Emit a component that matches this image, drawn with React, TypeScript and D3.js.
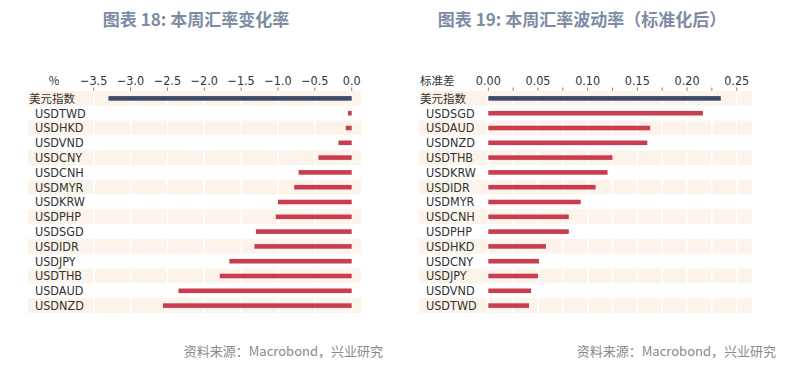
import React from "react";
import * as d3 from "d3";

// 图表18：本周汇率变化率 (%)
const changeCats = [
  "美元指数", "USDTWD", "USDHKD", "USDVND", "USDCNY", "USDCNH", "USDMYR", "USDKRW",
  "USDPHP", "USDSGD", "USDIDR", "USDJPY", "USDTHB", "USDAUD", "USDNZD",
];
const changeVals = [
  -3.3, -0.05, -0.08, -0.18, -0.45, -0.72, -0.78, -1.0,
  -1.03, -1.3, -1.32, -1.66, -1.79, -2.35, -2.56,
];
const changeTicks = [-3.5, -3.0, -2.5, -2.0, -1.5, -1.0, -0.5, 0.0];

// 图表19：本周汇率波动率（标准化后）
const volCats = [
  "美元指数", "USDSGD", "USDAUD", "USDNZD", "USDTHB", "USDKRW", "USDIDR", "USDMYR",
  "USDCNH", "USDPHP", "USDHKD", "USDCNY", "USDJPY", "USDVND", "USDTWD",
];
const volVals = [
  0.234, 0.216, 0.163, 0.16, 0.125, 0.12, 0.108, 0.093,
  0.081, 0.081, 0.058, 0.051, 0.05, 0.043, 0.041,
];
const volTicks = [0, 0.025, 0.05, 0.075, 0.1, 0.125, 0.15, 0.175, 0.2, 0.225, 0.25];
const volLabels = [0, 0.05, 0.1, 0.15, 0.2, 0.25];

const ROW_BG = "#fcf3ea";
const NAVY = "#3d4a6a";
const RED = "#c93d4f";
const FONT_NUM = "'Liberation Sans Narrow', 'Arial Narrow', 'DejaVu Sans Condensed', sans-serif";
const FONT_CJK = "'Noto Sans CJK SC', sans-serif";

interface PanelProps {
  title: string;
  titleX: number;
  unit: string;
  cats: string[];
  vals: number[];
  domain: [number, number];
  range: [number, number];
  left: number;
  right: number;
  grid: number[];
  labels: number[];
  fmt: (v: number) => string;
  unitX: number;
  unitAnchor: "start" | "middle";
  labelX: number;
  cnLabelX: number;
  sourceX: number;
}

function Panel(p: PanelProps) {
  const x = d3.scaleLinear().domain(p.domain).range(p.range);
  const y = d3.scaleBand().domain(p.cats).range([91, 313]).paddingInner(0);
  const bh = y.bandwidth();

  return (
    <g>
      <text x={p.titleX} y={26} textAnchor="middle" fontFamily={FONT_CJK} fontWeight={700}
        fontSize={17} fill="#7d8ca4">{p.title}</text>

      {/* rows */}
      {p.cats.map((c, i) => (
        <rect key={c} x={p.left} y={y(c)} width={p.right - p.left} height={bh}
          fill={i % 2 === 0 ? ROW_BG : "#ffffff"} />
      ))}
      {/* vertical grid */}
      {p.grid.map((t) => (
        <line key={t} x1={x(t)} x2={x(t)} y1={91} y2={313} stroke="#ffffff" strokeWidth={1.5} />
      ))}
      <line x1={x(p.domain[0])} x2={x(p.domain[0])} y1={91} y2={313} stroke="#ffffff" strokeWidth={1.5} />

      {/* axis ticks + labels */}
      {p.grid.map((t) => (
        <line key={"t" + t} x1={x(t)} x2={x(t)} y1={87.5} y2={91} stroke="#888" strokeWidth={1} />
      ))}
      {p.labels.map((t) => (
        <text key={"l" + t} x={x(t)} y={85} textAnchor="middle" fontFamily={FONT_NUM}
          fontSize={12.5} fill="#333">{p.fmt(t)}</text>
      ))}
      <text x={p.unitX} y={85} textAnchor={p.unitAnchor} fontFamily={FONT_CJK} fontSize={11.5}
        fill="#333">{p.unit}</text>

      {/* category labels */}
      {p.cats.map((c, i) => (
        <text key={"c" + c} x={i === 0 ? p.cnLabelX : p.labelX} y={(y(c) as number) + bh / 2 + 4.3}
          fontFamily={i === 0 ? FONT_CJK : FONT_NUM} fontSize={i === 0 ? 11.5 : 12.5}
          fill="#333">{c}</text>
      ))}

      {/* bars */}
      {p.cats.map((c, i) => {
        const v = p.vals[i];
        const x0 = x(0);
        const x1 = x(v);
        return (
          <rect key={"b" + c} x={Math.min(x0, x1)} width={Math.abs(x1 - x0)}
            y={(y(c) as number) + bh / 2 - 2.3} height={4.6} fill={i === 0 ? NAVY : RED} />
        );
      })}

      <text x={p.sourceX} y={356} textAnchor="end" fontFamily={FONT_CJK} fontSize={13}
        fill="#8a8a8a">资料来源：Macrobond，兴业研究</text>
    </g>
  );
}

export default function App() {
  return (
    <svg width={804} height={368} style={{ position: "absolute", left: 0, top: 0, background: "#fff" }}>
      <Panel
        title="图表 18: 本周汇率变化率"
        titleX={196}
        unit="%"
        cats={changeCats}
        vals={changeVals}
        domain={[-3.5, 0]}
        range={[93.7, 351.7]}
        left={28}
        right={361}
        grid={changeTicks}
        labels={changeTicks}
        fmt={(v) => (v === 0 ? "0.0" : d3.format(".1f")(v))}
        unitX={54}
        unitAnchor="middle"
        labelX={35}
        cnLabelX={29}
        sourceX={383}
      />
      <Panel
        title="图表 19: 本周汇率波动率（标准化后）"
        titleX={582}
        unit="标准差"
        cats={volCats}
        vals={volVals}
        domain={[0, 0.25]}
        range={[488.3, 736.7]}
        left={419}
        right={752}
        grid={volTicks}
        labels={volLabels}
        fmt={(v) => d3.format(".2f")(v)}
        unitX={420}
        unitAnchor="start"
        labelX={426}
        cnLabelX={420}
        sourceX={776}
      />
    </svg>
  );
}
